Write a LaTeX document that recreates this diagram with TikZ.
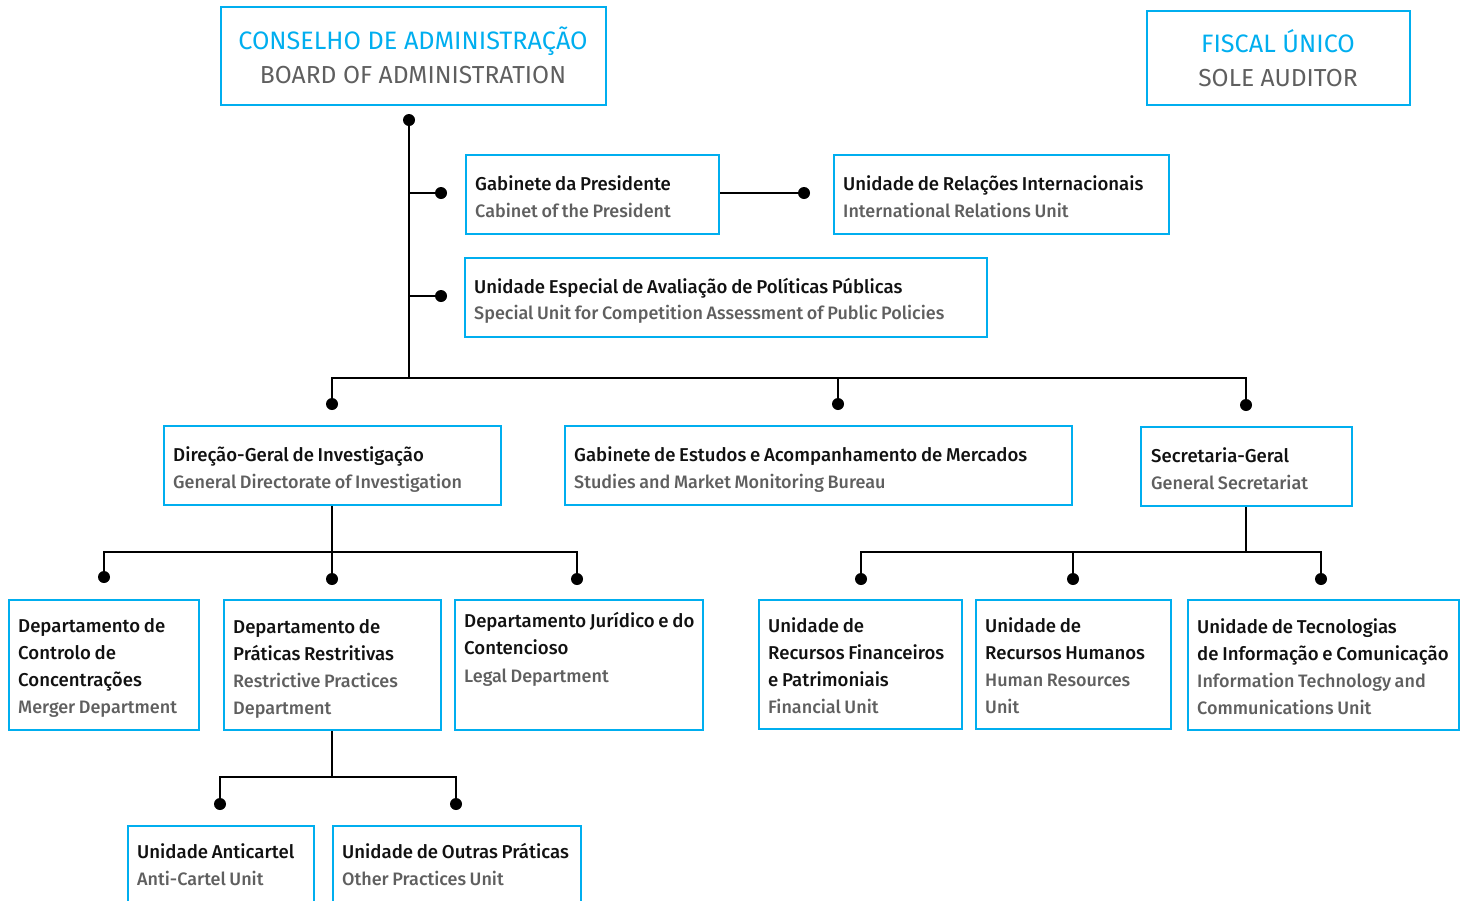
\documentclass[tikz,border=0pt]{standalone}
\usepackage{fontspec}
\setmainfont{Fira Sans}[UprightFont=* Medium, WordSpace=0.8]
\newfontfamily\hdfont{Fira Sans}
\definecolor{cb}{HTML}{00AEEF}
\definecolor{gt}{HTML}{5F5F5F}
\definecolor{bt}{HTML}{111111}
\tikzset{
  box/.style={draw=cb, line width=2pt, inner sep=0pt, rectangle},
  tb/.style={anchor=base west, inner sep=0pt, text=bt, font=\fontsize{18.6}{23}\selectfont},
  tg/.style={anchor=base west, inner sep=0pt, text=gt, font=\fontsize{18}{22}\selectfont},
  hb/.style={anchor=base, inner sep=0pt, text=cb, font=\hdfont\fontsize{25.2}{28}\selectfont},
  hg/.style={anchor=base, inner sep=0pt, text=gt, font=\hdfont\fontsize{24.6}{28}\selectfont},
  dotn/.style={circle, fill=black, inner sep=0pt, minimum size=12pt},
  conn/.style={draw=black, line width=2pt},
}
\newcommand\bx[5]{\node[box, minimum width={#4-#2}, minimum height={#5-#3}] (#1) at ({(#2+#4)/2},{(#3+#5)/2}) {};}
\begin{document}
\begin{tikzpicture}[x=1pt,y=-1pt]
\useasboundingbox (0,0) rectangle (1463,900);
\clip (0,0) rectangle (1463,900);
% ---- boxes ----
\bx{board}{221}{7}{606}{105}
\node[hb] (board-1) at (413,49) {CONSELHO DE ADMINISTRAÇÃO};
\node[hg] (board-2) at (413,83) {BOARD OF ADMINISTRATION};
\bx{fiscal}{1147}{11}{1410}{105}
\node[hb] (fiscal-1) at (1278,52) {FISCAL ÚNICO};
\node[hg] (fiscal-2) at (1278,86) {SOLE AUDITOR};

\bx{gab}{466}{155}{719}{234}
\node[tb] (gab-1) at (475,190) {Gabinete da Presidente};
\node[tg] (gab-2) at (475,217) {Cabinet of the President};
\bx{uri}{834}{155}{1169}{234}
\node[tb] (uri-1) at (843,190) {Unidade de Relações Internacionais};
\node[tg] (uri-2) at (843,217) {International Relations Unit};
\bx{ue}{465}{258}{987}{337}
\node[tb] (ue-1) at (474,293) {Unidade Especial de Avaliação de Políticas Públicas};
\node[tg] (ue-2) at (474,319) {Special Unit for Competition Assessment of Public Policies};

\bx{dgi}{164}{426}{501}{505}
\node[tb] (dgi-1) at (173,461) {Direção-Geral de Investigação};
\node[tg] (dgi-2) at (173,488) {General Directorate of Investigation};
\bx{geam}{565}{426}{1072}{505}
\node[tb] (geam-1) at (574,461) {Gabinete de Estudos e Acompanhamento de Mercados};
\node[tg] (geam-2) at (574,488) {Studies and Market Monitoring Bureau};
\bx{sg}{1141}{427}{1352}{506}
\node[tb] (sg-1) at (1151,462) {Secretaria-Geral};
\node[tg] (sg-2) at (1151,489) {General Secretariat};

\bx{dcc}{9}{600}{199}{730}
\node[tb] (dcc-1) at (18,632) {Departamento de};
\node[tb] (dcc-2) at (18,659) {Controlo de};
\node[tb] (dcc-3) at (18,686) {Concentrações};
\node[tg] (dcc-4) at (18,713) {Merger Department};
\bx{dpr}{224}{600}{441}{730}
\node[tb] (dpr-1) at (233,633) {Departamento de};
\node[tb] (dpr-2) at (233,660) {Práticas Restritivas};
\node[tg] (dpr-3) at (233,687) {Restrictive Practices};
\node[tg] (dpr-4) at (233,714) {Department};
\bx{djc}{455}{600}{703}{730}
\node[tb] (djc-1) at (464,627) {Departamento Jurídico e do};
\node[tb] (djc-2) at (464,654) {Contencioso};
\node[tg] (djc-3) at (464,682) {Legal Department};

\bx{urf}{759}{600}{962}{729}
\node[tb] (urf-1) at (768,632) {Unidade de};
\node[tb] (urf-2) at (768,659) {Recursos Financeiros};
\node[tb] (urf-3) at (768,686) {e Patrimoniais};
\node[tg] (urf-4) at (768,713) {Financial Unit};
\bx{urh}{976}{600}{1171}{729}
\node[tb] (urh-1) at (985,632) {Unidade de};
\node[tb] (urh-2) at (985,659) {Recursos Humanos};
\node[tg] (urh-3) at (985,686) {Human Resources};
\node[tg] (urh-4) at (985,713) {Unit};
\bx{uti}{1188}{600}{1459}{730}
\node[tb] (uti-1) at (1197,633) {Unidade de Tecnologias};
\node[tb] (uti-2) at (1197,660) {de Informação e Comunicação};
\node[tg] (uti-3) at (1197,687) {Information Technology and};
\node[tg] (uti-4) at (1197,714) {Communications Unit};

\bx{ua}{128}{826}{314}{920}
\node[tb] (ua-1) at (137,858) {Unidade Anticartel};
\node[tg] (ua-2) at (137,885) {Anti-Cartel Unit};
\bx{uop}{333}{826}{581}{920}
\node[tb] (uop-1) at (342,858) {Unidade de Outras Práticas};
\node[tg] (uop-2) at (342,885) {Other Practices Unit};

% ---- dots ----
\node[dotn] (d0) at (409,120) {};
\node[dotn] (dg) at (441,193) {};
\node[dotn] (du) at (441,296) {};
\node[dotn] (dr) at (804,193) {};
\node[dotn] (da) at (332,404) {};
\node[dotn] (db) at (838,404) {};
\node[dotn] (dc) at (1246,405) {};
\node[dotn] (e1) at (104,577) {};
\node[dotn] (e2) at (332,579) {};
\node[dotn] (e3) at (577,579) {};
\node[dotn] (f1) at (861,579) {};
\node[dotn] (f2) at (1073,579) {};
\node[dotn] (f3) at (1321,579) {};
\node[dotn] (g1) at (220,804) {};
\node[dotn] (g2) at (456,804) {};
\coordinate (j1) at (409,378);
\coordinate (j2) at (332,552);
\coordinate (j3) at (1246,552);
\coordinate (j4) at (332,777);

% ---- connectors ----
\draw[conn] (d0.center) -- (j1);
\draw[conn] (d0 |- dg) -- (dg.center);
\draw[conn] (d0 |- du) -- (du.center);
\draw[conn] (gab.east |- dr) -- (dr.center);
\draw[conn] (da.center) -- (da |- j1) -- (dc |- j1) -- (dc.center);
\draw[conn] (db.center) -- (db |- j1);
\draw[conn] (j2 |- dgi.south) -- (j2);
\draw[conn] (e1.center) -- (e1 |- j2) -- (e3 |- j2) -- (e3.center);
\draw[conn] (e2.center) -- (j2);
\draw[conn] (j3 |- sg.south) -- (j3);
\draw[conn] (f1.center) -- (f1 |- j3) -- (f3 |- j3) -- (f3.center);
\draw[conn] (f2.center) -- (f2 |- j3);
\draw[conn] (j4 |- dpr.south) -- (j4);
\draw[conn] (g1.center) -- (g1 |- j4) -- (g2 |- j4) -- (g2.center);
\end{tikzpicture}
\end{document}
